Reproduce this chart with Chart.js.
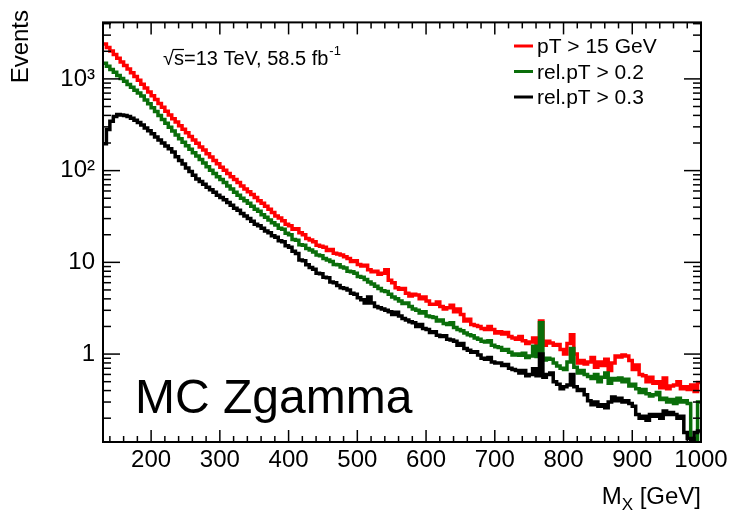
<!DOCTYPE html>
<html>
<head>
<meta charset="utf-8">
<title>MC Zgamma</title>
<script src="https://cdn.jsdelivr.net/npm/chart.js@4"></script>
<style>
  html, body { margin: 0; padding: 0; background: #fff; }
</style>
</head>
<body>
<canvas id="chart" width="732" height="516"></canvas>
<script>
const FONT = "'Liberation Sans', Arial, Helvetica, sans-serif"

// histogram binning (GeV)
const binStart = 130
const binWidth = 5
const xMin = 130
const xMax = 1000
const yMin = 0.11
const yMax = 4130

const xTickValues = [200, 300, 400, 500, 600, 700, 800, 900, 1000]
const yTickValues = [1, 10, 100, 1000]
const yTickLabels = ["1", "10", "10²", "10³"]

const seriesLabels = ["pT > 15 GeV", "rel.pT > 0.2", "rel.pT > 0.3"]
const seriesColors = ["#ff0000", "#0a6e0a", "#000000"]

// bin contents, one value per 5 GeV bin from 130 to 1000
const ptGt15 = [
  2400, 2200, 2010, 1840, 1680, 1530, 1400, 1280, 1170, 1065,
  965, 875, 795, 720, 655, 595, 540, 490, 445, 405,
  368, 338, 308, 282, 258, 236, 216, 199, 181, 168,
  153, 141, 129, 119, 109, 101, 93, 86, 80, 74,
  68, 63, 59, 55, 51, 47, 44, 41, 38, 35,
  32, 30.5, 28.5, 26, 25, 23, 23.2, 21, 20, 18.2,
  17.5, 16.8, 15.4, 15.0, 14.6, 13.5, 13.8, 12.6, 12.3, 12.0,
  11.5, 11.0, 10.2, 10.4, 9.5, 9.1, 9.3, 8.3, 7.9, 8.0,
  7.4, 7.6, 8.3, 6.4, 6.0, 5.3, 5.1, 5.2, 4.6, 4.3,
  4.5, 4.4, 4.0, 4.2, 3.8, 3.5, 3.5, 3.7, 3.3, 3.1,
  3.2, 3.4, 2.9, 3.1, 2.7, 2.3, 2.4, 2.1, 2.05, 2.0,
  1.9, 1.85, 2.0, 1.85, 1.7, 1.75, 1.65, 1.72, 1.55, 1.5,
  1.45, 1.55, 1.4, 1.3, 1.35, 1.5, 1.3, 2.3, 1.25, 1.38,
  1.32, 1.25, 1.27, 1.12, 1.0, 1.3, 1.62, 1.0, 0.8, 0.85,
  0.78, 0.82, 0.92, 0.72, 0.82, 0.75, 0.88, 0.66, 0.8, 0.95,
  0.93, 0.98, 0.95, 0.85, 0.68, 0.76, 0.6, 0.58, 0.5, 0.56,
  0.48, 0.5, 0.43, 0.55, 0.42, 0.45, 0.46, 0.5, 0.42, 0.44,
  0.41, 0.46, 0.39, 0.49
]

const relPt02 = [
  1480, 1370, 1270, 1180, 1090, 1010, 940, 870, 810, 750,
  700, 650, 590, 535, 485, 440, 400, 362, 328, 297,
  270, 244, 222, 204, 187, 171, 157, 144, 132, 121,
  110, 101, 93, 86, 80, 74, 68, 63, 58, 54,
  50, 47, 44, 41, 38, 36, 33, 31, 29, 27,
  25.5, 23.5, 23, 20.8, 20, 17.8, 17.4, 15.6, 15.4, 14.2,
  13.6, 13.0, 12.0, 11.8, 11.0, 10.6, 10.2, 9.5, 9.4, 8.9,
  8.7, 8.0, 7.9, 7.6, 7.0, 6.9, 6.5, 6.1, 5.8, 5.5,
  5.2, 4.9, 4.8, 4.5, 4.2, 4.0, 3.8, 3.55, 3.6, 3.3,
  3.1, 3.0, 2.8, 2.9, 2.6, 2.55, 2.5, 2.3, 2.35, 2.15,
  2.1, 2.2, 1.95, 1.85, 1.8, 1.7, 1.62, 1.58, 1.5, 1.45,
  1.38, 1.35, 1.4, 1.25, 1.2, 1.18, 1.1, 1.12, 1.05, 0.98,
  1.0, 0.97, 1.02, 0.92, 0.95, 1.22, 0.94, 2.2, 0.86, 0.9,
  0.88, 0.8, 0.74, 0.7, 0.68, 0.82, 1.15, 0.72, 0.62, 0.66,
  0.6, 0.57, 0.54, 0.6, 0.5, 0.56, 0.62, 0.48, 0.54, 0.52,
  0.55, 0.5, 0.53, 0.45, 0.47, 0.42, 0.38, 0.41, 0.37, 0.35,
  0.36, 0.38, 0.32, 0.33, 0.3, 0.32, 0.29, 0.33, 0.3, 0.31,
  0.29, 0.12, 0.11, 0.30
]

const relPt03 = [
  196, 280, 345, 390, 410, 405, 400, 390, 372, 355,
  335, 315, 292, 272, 252, 233, 216, 200, 186, 173,
  160, 142, 129, 118, 107, 98, 89, 81, 76, 71,
  66, 62, 58, 54, 51, 48, 45, 42, 39, 37,
  34, 32, 30, 28, 26, 25, 23.5, 22, 21, 19.5,
  18.8, 17.2, 16.8, 15.2, 14.6, 13.2, 12.5, 10.6, 10.4, 9.4,
  8.8, 8.4, 7.6, 7.5, 6.9, 6.8, 6.1, 6.0, 5.6, 5.3,
  5.2, 5.0, 4.6, 4.5, 4.1, 3.9, 3.6, 4.2, 3.6, 3.3,
  3.2, 3.1, 3.0, 2.9, 2.7, 2.85, 2.6, 2.45, 2.35, 2.25,
  2.2, 2.0, 2.1, 1.9, 1.85, 1.72, 1.75, 1.6, 1.55, 1.58,
  1.45, 1.42, 1.38, 1.25, 1.3, 1.15, 1.1, 1.05, 1.06, 0.98,
  0.9, 0.88, 0.92, 0.82, 0.8, 0.8, 0.75, 0.77, 0.7, 0.68,
  0.66, 0.62, 0.66, 0.58, 0.6, 0.69, 0.58, 1.0, 0.56, 0.6,
  0.62, 0.5, 0.47, 0.42, 0.44, 0.46, 0.6, 0.44, 0.4, 0.41,
  0.36, 0.31, 0.28, 0.3, 0.27, 0.28, 0.26, 0.3, 0.34, 0.31,
  0.33, 0.3, 0.31, 0.29, 0.27, 0.22, 0.2, 0.21, 0.19, 0.22,
  0.21, 0.22, 0.2, 0.24, 0.22, 0.23, 0.22, 0.2, 0.21, 0.14,
  0.12, 0.10, 0.14, 0.145
]

// points at the low edge of each bin, plus the closing edge
function histPoints(values) {
  const pts = values.map((v, i) => ({ x: binStart + i * binWidth, y: v }))
  pts.push({ x: binStart + values.length * binWidth, y: values[values.length - 1] })
  return pts
}

const allSeries = [ptGt15, relPt02, relPt03]

// ROOT-like frame, inward ticks and the text on the pad
const rootPad = {
  id: "rootPad",
  afterDatasetsDraw(chart) {
    const { ctx, chartArea: a, scales } = chart
    const x = scales.x
    const y = scales.y
    ctx.save()
    ctx.strokeStyle = "#000"
    ctx.lineWidth = 1.5
    const seg = (x1, y1, x2, y2) => {
      ctx.beginPath(); ctx.moveTo(x1, y1); ctx.lineTo(x2, y2); ctx.stroke()
    }
    for (let v = 140; v <= xMax; v += 20) {
      const px = x.getPixelForValue(v)
      const len = v % 100 === 0 ? 12 : 6
      seg(px, a.bottom, px, a.bottom - len)
      seg(px, a.top, px, a.top + len)
    }
    for (let dec = -1; dec <= 3; dec++) {
      for (let k = 1; k <= 9; k++) {
        const v = k * Math.pow(10, dec)
        if (v < yMin || v > yMax) continue
        const py = y.getPixelForValue(v)
        const len = k === 1 ? 17 : 8
        seg(a.left, py, a.left + len, py)
        seg(a.right, py, a.right - len, py)
      }
    }
    ctx.lineWidth = 2
    ctx.strokeRect(a.left, a.top, a.right - a.left, a.bottom - a.top)
    ctx.restore()
  },
  afterDraw(chart) {
    const { ctx, chartArea: a } = chart
    ctx.save()
    ctx.fillStyle = "#000"
    ctx.textBaseline = "alphabetic"

    // y title
    ctx.save()
    ctx.font = "24px " + FONT
    ctx.translate(28, 10)
    ctx.rotate(-Math.PI / 2)
    ctx.textAlign = "right"
    ctx.fillText("Events", 0, 0)
    ctx.restore()

    // x title: M_X [GeV]
    ctx.font = "24px " + FONT
    const wRest = ctx.measureText(" [GeV]").width
    const wM = ctx.measureText("M").width
    ctx.font = "17px " + FONT
    const wX = ctx.measureText("X").width
    let tx = a.right - wRest - wX - wM
    ctx.textAlign = "left"
    ctx.font = "24px " + FONT
    ctx.fillText("M", tx, 504)
    ctx.font = "17px " + FONT
    ctx.fillText("X", tx + wM, 510)
    ctx.font = "24px " + FONT
    ctx.fillText(" [GeV]", tx + wM + wX, 504)

    // big label
    ctx.font = "48px " + FONT
    ctx.fillText("MC Zgamma", 135, 413)

    // energy and luminosity
    ctx.font = "20px " + FONT
    let lx = 163
    const wRoot = ctx.measureText("√").width
    ctx.fillText("√", lx, 65)
    const wS = ctx.measureText("s").width
    ctx.lineWidth = 1.2
    ctx.beginPath()
    ctx.moveTo(lx + wRoot - 1, 49.5)
    ctx.lineTo(lx + wRoot + wS, 49.5)
    ctx.stroke()
    lx += wRoot
    const lumi = "s=13 TeV, 58.5 fb"
    ctx.fillText(lumi, lx, 65)
    lx += ctx.measureText(lumi).width
    ctx.font = "13px " + FONT
    ctx.fillText("-1", lx + 1, 55)

    // legend
    ctx.font = "21px " + FONT
    seriesLabels.forEach((label, i) => {
      const base = 53 + i * 25.5
      ctx.strokeStyle = seriesColors[i]
      ctx.lineWidth = 3
      ctx.beginPath()
      ctx.moveTo(514, base - 7)
      ctx.lineTo(533, base - 7)
      ctx.stroke()
      ctx.fillStyle = "#000"
      ctx.fillText(label, 537, base)
    })
    ctx.restore()
  }
}

new Chart(document.getElementById("chart"), {
  type: "line",
  data: {
    datasets: allSeries.map((values, i) => ({
      label: seriesLabels[i],
      data: histPoints(values),
      borderColor: seriesColors[i],
      borderWidth: 3.5,
      stepped: true,
      pointRadius: 0,
      fill: false,
      order: 3 - i,
    })),
  },
  options: {
    responsive: false,
    animation: false,
    devicePixelRatio: 1,
    layout: { padding: { top: 13, right: 31, left: 0, bottom: 0 } },
    plugins: { legend: { display: false }, tooltip: { enabled: false } },
    scales: {
      x: {
        type: "linear",
        min: xMin,
        max: xMax,
        grid: { display: false, drawTicks: false },
        border: { display: false },
        afterBuildTicks: (s) => { s.ticks = xTickValues.map((v) => ({ value: v })) },
        afterFit: (s) => { s.height = 74 },
        ticks: {
          font: { family: FONT, size: 24 },
          color: "#000",
          padding: 4,
          maxRotation: 0,
          autoSkip: false,
          callback: (v) => String(v),
        },
      },
      y: {
        type: "logarithmic",
        min: yMin,
        max: yMax,
        grid: { display: false, drawTicks: false },
        border: { display: false },
        afterBuildTicks: (s) => { s.ticks = yTickValues.map((v) => ({ value: v })) },
        afterFit: (s) => { s.width = 103 },
        ticks: {
          font: { family: FONT, size: 24 },
          color: "#000",
          padding: 8,
          autoSkip: false,
          callback: (v) => {
            const i = yTickValues.indexOf(v)
            return i < 0 ? "" : yTickLabels[i]
          },
        },
      },
    },
  },
  plugins: [rootPad],
})
</script>
</body>
</html>
